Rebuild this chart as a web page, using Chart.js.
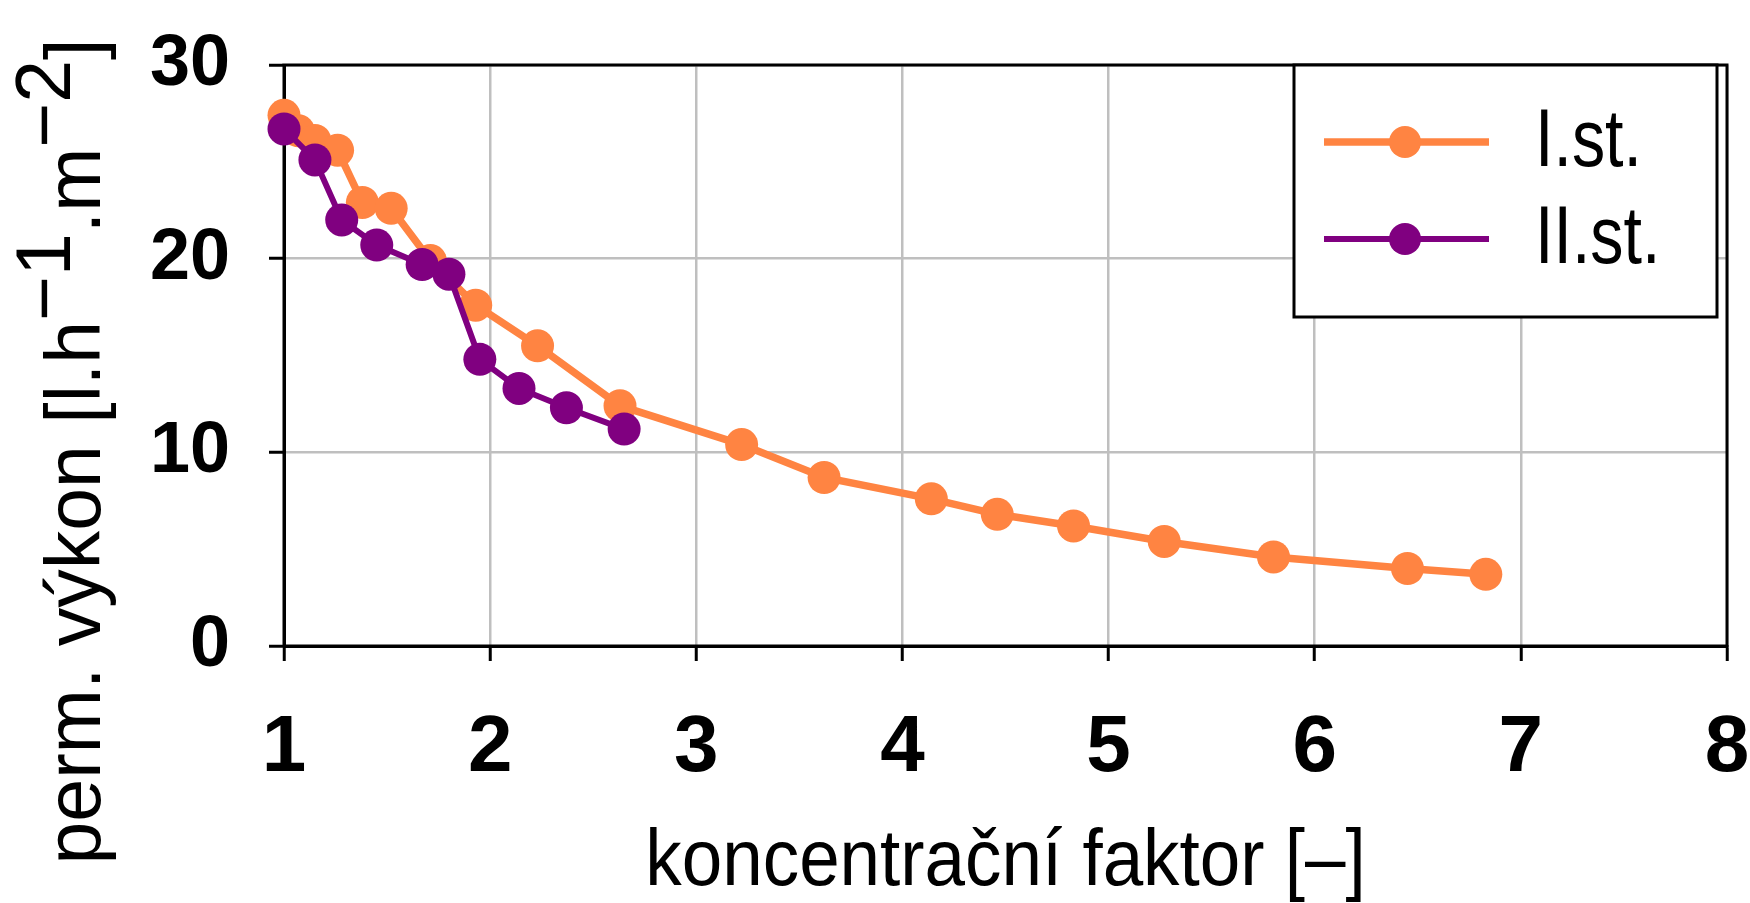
<!DOCTYPE html>
<html>
<head>
<meta charset="utf-8">
<script src="https://cdn.jsdelivr.net/npm/chart.js@4.4.1/dist/chart.umd.min.js"></script>
<style>
html, body { margin: 0; padding: 0; background: #fff; }
#wrap { width: 1750px; height: 903px; }
</style>
</head>
<body>
<div id="wrap"><canvas id="c" width="1750" height="903"></canvas></div>
<script>
// koncentracni faktor vs. permeate flux, two stages
const stage1X = [1.0, 1.07, 1.15, 1.26, 1.38, 1.52, 1.71, 1.93, 2.23, 2.63, 3.22, 3.62, 4.14, 4.46, 4.83, 5.27, 5.80, 6.45, 6.83]
const stage1Y = [27.4, 26.6, 26.1, 25.6, 22.9, 22.6, 19.9, 17.6, 15.5, 12.4, 10.4, 8.7, 7.6, 6.8, 6.2, 5.4, 4.6, 4.0, 3.7]
const stage2X = [1.0, 1.15, 1.28, 1.45, 1.67, 1.80, 1.95, 2.14, 2.37, 2.65]
const stage2Y = [26.7, 25.1, 22.0, 20.7, 19.7, 19.2, 14.8, 13.3, 12.3, 11.2]
const seriesNames = ["I.st.", "II.st."]
const xTicks = [1, 2, 3, 4, 5, 6, 7, 8]
const yTicks = [0, 10, 20, 30]
const xTitle = "koncentrační faktor [–]"
// y title pieces: [text, superscript?]
const yTitle = [["perm. výkon [l.h", false], ["−1", true], [".m", false], ["−2", true], ["]", false]]

const ORANGE = "#ff8442"
const PURPLE = "#800080"

const pts = (xs, ys) => xs.map((x, i) => ({ x: x, y: ys[i] }))

const frame = {
 id: "frame",
 beforeDatasetsDraw(chart) {
  const a = chart.chartArea, ctx = chart.ctx
  ctx.save()
  ctx.strokeStyle = "#000"
  ctx.lineWidth = 3
  ctx.strokeRect(a.left, a.top, a.right - a.left, a.bottom - a.top)
  ctx.restore()
 }
}

const titles = {
 id: "titles",
 afterDraw(chart) {
  const a = chart.chartArea, ctx = chart.ctx
  ctx.save()
  ctx.fillStyle = "#000"
  // x title, slightly condensed
  ctx.font = "80px 'Liberation Sans', Arial, sans-serif"
  ctx.textBaseline = "alphabetic"
  ctx.textAlign = "center"
  ctx.translate((a.left + a.right) / 2, 885)
  ctx.scale(0.91, 1)
  ctx.fillText(xTitle, 0, 0)
  ctx.restore()

  // y title, rotated, with superscripts
  ctx.save()
  ctx.fillStyle = "#000"
  ctx.font = "77px 'Liberation Sans', Arial, sans-serif"
  ctx.textBaseline = "alphabetic"
  ctx.textAlign = "left"
  let total = 0
  yTitle.forEach(p => { total += ctx.measureText(p[0]).width })
  ctx.translate(100, chart.height / 2)
  ctx.rotate(-Math.PI / 2)
  let x = -total / 2
  yTitle.forEach(p => {
   ctx.fillText(p[0], x, p[1] ? -30 : 0)
   x += ctx.measureText(p[0]).width
  })
  ctx.restore()
 }
}

const boxLegend = {
 id: "boxLegend",
 afterDraw(chart) {
  const a = chart.chartArea, ctx = chart.ctx
  const left = a.right - 433, top = a.top, w = 423, h = 252
  ctx.save()
  ctx.fillStyle = "#fff"
  ctx.fillRect(left, top, w, h)
  ctx.strokeStyle = "#000"
  ctx.lineWidth = 3
  ctx.strokeRect(left, top, w, h)
  chart.data.datasets.forEach((ds, i) => {
   const y = top + 77 + i * 97
   ctx.strokeStyle = ds.borderColor
   ctx.lineWidth = ds.borderWidth
   ctx.beginPath()
   ctx.moveTo(left + 30, y)
   ctx.lineTo(left + 195, y)
   ctx.stroke()
   ctx.fillStyle = ds.backgroundColor
   ctx.beginPath()
   ctx.arc(left + 111, y, 16, 0, Math.PI * 2)
   ctx.fill()
   ctx.save()
   ctx.fillStyle = "#000"
   ctx.font = "81px 'Liberation Sans', Arial, sans-serif"
   ctx.textBaseline = "middle"
   ctx.translate(left + 241, y + 2)
   ctx.scale(0.82, 1)
   ctx.fillText(ds.label, 0, 0)
   ctx.restore()
  })
  ctx.restore()
 }
}

new Chart(document.getElementById("c"), {
 type: "line",
 data: {
  datasets: [{
   label: seriesNames[0],
   data: pts(stage1X, stage1Y),
   borderColor: ORANGE,
   backgroundColor: ORANGE,
   borderWidth: 7.5,
   pointRadius: 16.5,
   pointHoverRadius: 16.5,
   pointBorderWidth: 0,
   clip: false,
   order: 1
  }, {
   label: seriesNames[1],
   data: pts(stage2X, stage2Y),
   borderColor: PURPLE,
   backgroundColor: PURPLE,
   borderWidth: 6,
   pointRadius: 16.5,
   pointHoverRadius: 16.5,
   pointBorderWidth: 0,
   clip: false,
   order: 0
  }]
 },
 options: {
  responsive: false,
  animation: false,
  events: [],
  layout: { padding: { left: 0, top: 65, right: 23, bottom: 0 } },
  plugins: { legend: { display: false }, tooltip: { enabled: false } },
  scales: {
   x: {
    type: "linear",
    min: 1,
    max: 8,
    afterBuildTicks: s => { s.ticks = xTicks.map(v => ({ value: v })) },
    afterFit: s => { s.height = 257; s.paddingLeft = 0; s.paddingRight = 0 },
    grid: { color: "#bfbfbf", lineWidth: 2.5, tickColor: "#000", tickWidth: 3, tickLength: 15 },
    border: { color: "#000", width: 3 },
    ticks: {
     color: "#000",
     padding: 40,
     maxRotation: 0,
     font: { family: "'Liberation Sans', Arial", size: 80, weight: "bold" }
    }
   },
   y: {
    min: 0,
    max: 30,
    afterBuildTicks: s => { s.ticks = yTicks.map(v => ({ value: v })) },
    afterFit: s => { s.width = 284; s.paddingTop = 0; s.paddingBottom = 0 },
    grid: { color: "#bfbfbf", lineWidth: 2.5, tickColor: "#000", tickWidth: 3, tickLength: 15 },
    border: { color: "#000", width: 3 },
    ticks: {
     color: "#000",
     padding: 39,
     font: { family: "'Liberation Sans', Arial", size: 72, weight: "bold" }
    }
   }
  }
 },
 plugins: [frame, titles, boxLegend]
})
</script>
</body>
</html>
